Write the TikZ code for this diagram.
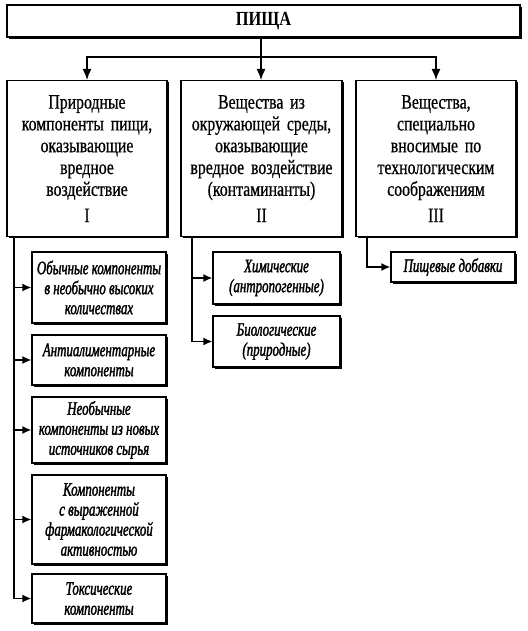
\documentclass[tikz,border=0pt]{standalone}
\usepackage{fontspec}
\setmainfont{Liberation Serif}
\newfontfamily\condfont[FakeStretch=0.77,FakeBold=0.6]{Liberation Serif}
\newfontfamily\titlefont[FakeStretch=0.82]{Liberation Serif}
\newfontfamily\subfont[FakeStretch=0.68,FakeBold=1.6]{Liberation Serif}
\usetikzlibrary{arrows.meta,shadows,calc}
\begin{document}
\begin{tikzpicture}[x=1pt,y=1pt,
  shade box/.style={draw=black, line width=1.3pt, fill=white,
    drop shadow={shadow xshift=1.8pt, shadow yshift=-1.8pt, fill=black, opacity=1}},
  topbox/.style={shade box, inner sep=0pt, font=\titlefont\fontsize{20}{20}\selectfont\bfseries},
  mainbox/.style={shade box, inner sep=0pt, align=center, anchor=north,
    font=\condfont\fontsize{20.5}{21.8}\selectfont},
  subbox/.style={shade box, inner sep=0pt, align=center,
    font=\subfont\fontsize{19}{20}\selectfont\itshape},
  conn/.style={line width=1.4pt},
  arr/.style={conn, -{Latex[length=9pt,width=8pt]}},
  bigarr/.style={conn, -{Latex[length=11pt,width=9pt]}}
]
\useasboundingbox (0,0) rectangle (527,-631);
\fill[white] (0,0) rectangle (527,-631);

\node[topbox, minimum width=513pt, minimum height=32pt] (top) at (263.5,-21) {ПИЩА};

\node[mainbox, minimum width=160pt, minimum height=156pt, text width=150pt] (b1) at (87,-80)
  {Природные\\компоненты пищи,\\оказывающие\\вредное\\воздействие\\[4.5pt]I};
\node[mainbox, minimum width=161pt, minimum height=156pt, text width=150pt] (b2) at (261.5,-80)
  {Вещества из\\окружающей среды,\\оказывающие\\вредное воздействие\\(контаминанты)\\[4.5pt]II};
\node[mainbox, minimum width=160pt, minimum height=156pt, text width=150pt] (b3) at (436,-80)
  {Вещества,\\специально\\вносимые по\\технологическим\\соображениям\\[4.5pt]III};

\coordinate (hub) at (261,-57);
\draw[conn] (top.south -| hub) -- (hub);
\draw[bigarr] (hub) -| (b1.north);
\draw[bigarr] (hub) -- (hub |- b2.north);
\draw[bigarr] (hub) -| (b3.north);

% group I
\node[subbox, minimum width=134pt, minimum height=71pt] (s1) at (99,-287.5)
  {Обычные компоненты\\в необычно высоких\\количествах};
\node[subbox, minimum width=134pt, minimum height=50pt] (s2) at (99,-360)
  {Антиалиментарные\\компоненты};
\node[subbox, minimum width=134pt, minimum height=66pt] (s3) at (99,-430)
  {Необычные\\компоненты из новых\\источников сырья};
\node[subbox, minimum width=134pt, minimum height=89pt] (s4) at (99,-519.5)
  {Компоненты\\с выраженной\\фармакологической\\активностью};
\node[subbox, minimum width=134pt, minimum height=49pt] (s5) at (99,-598.5)
  {Токсические\\компоненты};
\coordinate (t1) at (14,-236);
\foreach \s in {s1,s2,s3,s4,s5} \draw[arr] (t1) |- (\s.west);

% group II
\node[subbox, minimum width=127pt, minimum height=52pt] (c1) at (276.5,-278)
  {Химические\\(антропогенные)};
\node[subbox, minimum width=127pt, minimum height=51pt] (c2) at (276.5,-341.5)
  {Биологические\\(природные)};
\coordinate (t2) at (192,-236);
\foreach \s in {c1,c2} \draw[arr] (t2) |- (\s.west);

% group III
\node[subbox, minimum width=124pt, minimum height=30pt] (d1) at (453,-267)
  {Пищевые добавки};
\coordinate (t3) at (367,-236);
\draw[arr] (t3) |- (d1.west);
\end{tikzpicture}
\end{document}
